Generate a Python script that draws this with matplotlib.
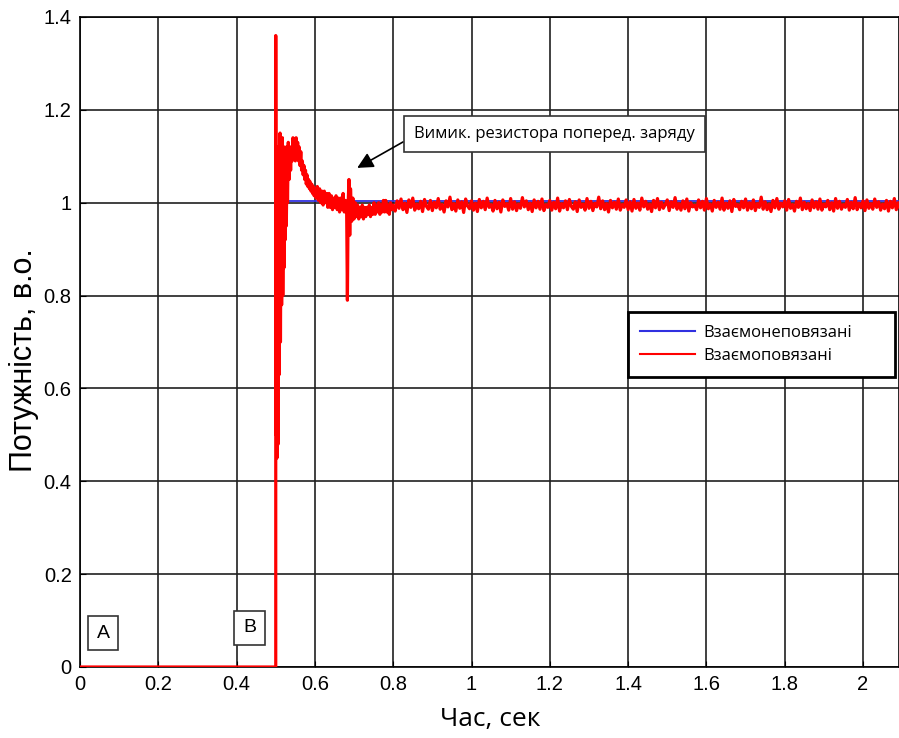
import numpy as np
import matplotlib
matplotlib.use("Agg")
from matplotlib import pyplot as plt

plt.rcParams['font.family'] = ['Liberation Sans', 'DejaVu Sans']

# blue: uncoupled control (ideal step)
blue_t = [0.0, 0.5, 0.5, 2.1]
blue_p = [0.0, 0.0, 1.003, 1.003]

# red: coupled control, start-up transient
red_t = [0.0, 0.5, 0.5, 0.501, 0.502, 0.503, 0.505, 0.506, 0.508, 0.509, 0.511, 0.512,
         0.514, 0.515, 0.517, 0.518, 0.520, 0.521, 0.523, 0.524, 0.526, 0.527, 0.529,
         0.530, 0.532, 0.534, 0.536, 0.538, 0.540, 0.542, 0.544, 0.546, 0.548, 0.550,
         0.552, 0.554, 0.556, 0.558, 0.560, 0.562, 0.564, 0.566, 0.568, 0.570, 0.572,
         0.574, 0.576, 0.578, 0.580, 0.582, 0.584, 0.586, 0.588, 0.590, 0.592, 0.594,
         0.596, 0.598, 0.600, 0.603, 0.606, 0.609, 0.612, 0.615, 0.618, 0.621, 0.624,
         0.627, 0.630, 0.633, 0.636, 0.639, 0.642, 0.645, 0.648, 0.651, 0.654, 0.657,
         0.660, 0.663, 0.666, 0.669, 0.672, 0.675, 0.678, 0.681, 0.683, 0.685, 0.687,
         0.689, 0.691, 0.694, 0.697, 0.700, 0.703, 0.706, 0.709, 0.712, 0.715, 0.718,
         0.721, 0.724, 0.727, 0.730, 0.733, 0.736, 0.739, 0.742, 0.745, 0.748, 0.751,
         0.754, 0.757, 0.760, 0.763, 0.766, 0.769, 0.772, 0.775, 0.778, 0.781, 0.784,
         0.787, 0.790, 0.793, 0.796]
red_p = [0.0, 0.0, 1.36, 0.50, 1.10, 0.45, 1.12, 0.48, 1.05, 0.63, 1.15, 0.70,
         1.10, 0.78, 1.14, 0.80, 1.08, 0.86, 1.12, 0.92, 1.10, 0.95, 1.12,
         1.00, 1.13, 1.05, 1.12, 1.07, 1.12, 1.09, 1.14, 1.10, 1.13, 1.09,
         1.14, 1.11, 1.13, 1.09, 1.12, 1.08, 1.11, 1.07, 1.09, 1.06, 1.08,
         1.05, 1.07, 1.04, 1.06, 1.035, 1.05, 1.03, 1.045, 1.025, 1.04, 1.02,
         1.035, 1.015, 1.03, 1.01, 1.035, 1.005, 1.03, 1.00, 1.025, 0.995, 1.025,
         1.00, 1.02, 0.99, 1.02, 0.99, 1.015, 0.985, 1.01, 0.99, 1.015, 0.985,
         1.01, 0.98, 1.01, 0.985, 1.02, 0.98, 1.005, 0.99, 0.79, 1.00, 1.05,
         0.93, 1.03, 0.96, 1.01, 0.965, 1.00, 0.97, 0.995, 0.965, 0.99, 0.97,
         0.995, 0.965, 0.99, 0.97, 0.99, 0.975, 0.995, 0.97, 0.99, 0.975, 1.00,
         0.975, 0.995, 0.98, 1.00, 0.975, 0.995, 0.98, 1.005, 0.98, 1.005, 0.98,
         0.995, 0.975, 1.00, 0.985]

# red: steady-state ripple from 0.8 s, one value every 5 ms
steady_start = 0.8
steady_step = 0.005
red_steady = [
    0.995, 0.982, 1.004, 0.988, 1.008, 0.985, 0.999, 0.979, 1.006, 0.990, 1.010, 0.984, 0.997, 0.987, 1.003, 0.981, 1.007, 0.992, 0.986, 1.005,
    0.983, 1.001, 0.989, 1.009, 0.986, 0.996, 0.980, 1.004, 0.991, 1.012, 0.985, 0.998, 0.982, 1.006, 0.988, 1.002, 0.979, 1.008, 0.993, 0.987,
    1.004, 0.984, 0.999, 0.981, 1.007, 0.989, 1.003, 0.985, 1.010, 0.990, 0.996, 0.982, 1.005, 0.987, 1.001, 0.980, 1.006, 0.992, 0.998, 0.984,
    1.009, 0.986, 1.002, 0.983, 0.997, 0.988, 1.011, 0.991, 1.004, 0.985, 0.999, 0.981, 1.006, 0.989, 1.003, 0.986, 1.008, 0.983, 0.996, 0.990,
    1.005, 0.984, 1.001, 0.987, 1.010, 0.982, 0.998, 0.989, 1.004, 0.985, 1.007, 0.992, 0.986, 1.002, 0.981, 1.006, 0.990, 0.997, 0.984, 1.009,
    0.988, 1.003, 0.983, 0.999, 0.991, 1.012, 0.987, 1.004, 0.985, 0.998, 0.980, 1.005, 0.989, 1.001, 0.986, 1.008, 0.984, 0.996, 0.990, 1.006,
    0.985, 1.002, 0.982, 1.007, 0.988, 0.999, 0.984, 1.010, 0.991, 1.003, 0.986, 0.997, 0.981, 1.005, 0.989, 1.009, 0.985, 1.001, 0.988, 0.996,
    1.006, 0.983, 1.002, 0.990, 1.011, 0.986, 0.998, 0.984, 1.004, 0.987, 1.008, 0.982, 1.000, 0.991, 0.995, 0.985, 1.006, 0.989, 1.003, 0.984,
    1.009, 0.987, 0.997, 0.982, 1.005, 0.990, 1.001, 0.986, 1.010, 0.984, 0.999, 0.988, 1.004, 0.981, 1.007, 0.992, 0.996, 0.985, 1.003, 0.989,
    1.008, 0.984, 1.000, 0.987, 1.006, 0.983, 0.998, 0.990, 1.012, 0.986, 1.002, 0.985, 0.997, 0.981, 1.005, 0.989, 1.009, 0.986, 0.999, 0.991,
    1.004, 0.984, 1.007, 0.988, 0.996, 0.982, 1.003, 0.990, 1.010, 0.985, 1.001, 0.987, 0.998, 0.983, 1.006, 0.989, 1.002, 0.986, 1.008, 0.984,
    0.997, 0.991, 1.005, 0.985, 1.000, 0.982, 1.009, 0.988, 1.003, 0.986, 0.996, 0.990, 1.007, 0.984, 1.001, 0.987, 1.011, 0.985, 0.999, 0.989,
    1.004, 0.983, 1.006, 0.988, 0.998, 0.986, 1.008, 0.990, 1.002, 0.984, 0.997, 0.987, 1.005, 0.982, 1.003, 0.989, 1.009, 0.985, 1.000, 0.988,
]

legend_labels = ['Взаємонеповязані', 'Взаємоповязані']
note_text = 'Вимик. резистора поперед. заряду'
xticks = [0, 0.2, 0.4, 0.6, 0.8, 1, 1.2, 1.4, 1.6, 1.8, 2]
yticks = [0, 0.2, 0.4, 0.6, 0.8, 1, 1.2, 1.4]

steady_t = steady_start + steady_step * np.arange(len(red_steady))
all_t = np.concatenate([red_t, steady_t])
all_p = np.concatenate([red_p, red_steady])

fig = plt.figure(figsize=(8.99, 7.38), dpi=100)
ax = fig.add_axes([80/899, 71/738, 819/899, 650/738])

ax.plot(blue_t, blue_p, color='#3030e0', lw=1.3, label=legend_labels[0], zorder=3)
ax.plot(all_t, all_p, color='#ff0000', lw=2.3, label=legend_labels[1], zorder=4)

ax.set_xlim(0, 819/391.5)
ax.set_ylim(0, 1.4)
ax.set_xticks(xticks)
ax.set_yticks(yticks)
ax.set_xticklabels(['%g' % v for v in xticks], fontsize=14.5)
ax.set_yticklabels(['%g' % v for v in yticks], fontsize=14.5)
ax.tick_params(direction='in', length=4, pad=6)
ax.grid(True, color='#202020', lw=1.2, zorder=1)
ax.set_axisbelow(True)
for s in ax.spines.values():
    s.set_color('black')
    s.set_linewidth(1.2)

ax.set_xlabel('Час, сек', fontsize=19, family=['Open Sans', 'DejaVu Sans'])
ax.xaxis.set_label_coords((490-80)/819, -0.061)
ax.set_ylabel('Потужність, в.о.', fontsize=22)
ax.yaxis.set_label_coords(-0.050, (667-360)/650)

# annotation with arrow
ax.annotate(note_text, xy=(0.708, 1.075), xytext=(1.211, 1.149),
            ha='center', va='center', fontsize=12, family=['Open Sans', 'DejaVu Sans'],
            bbox=dict(boxstyle='square,pad=0.6', fc='white', ec='#333333', lw=1.2),
            arrowprops=dict(arrowstyle='-|>', color='black', lw=1.2, mutation_scale=24,
                            shrinkA=0, shrinkB=0, relpos=(0, 0.35)),
            zorder=6)

# A / B markers
for lab, x, y in [('A', 0.059, 0.073), ('B', 0.433, 0.084)]:
    ax.text(x, y, lab, ha='center', va='center', fontsize=14,
            bbox=dict(boxstyle='square,pad=0.45', fc='white', ec='#333333', lw=1.2),
            zorder=6)

leg = ax.legend(loc='upper left', bbox_to_anchor=(0.669, 0.446, 0.326, 0.1), mode='expand',
                borderaxespad=0, fancybox=False, framealpha=1, edgecolor='black',
                prop={'family': ['Open Sans', 'DejaVu Sans'], 'size': 12},
                handlelength=3.3, handletextpad=0.5, labelspacing=0.45, borderpad=0.75)
leg.get_frame().set_linewidth(2)
leg.set_zorder(7)
for line in leg.get_lines():
    line.set_linewidth(1.5)

fig.savefig('out.png', dpi=100)
